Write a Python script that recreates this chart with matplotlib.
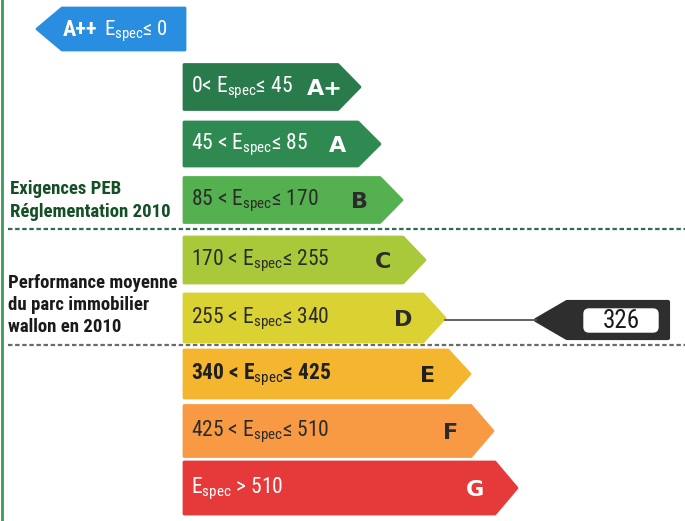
import matplotlib.pyplot as plt
from matplotlib import font_manager
from matplotlib.patches import Polygon, FancyBboxPatch

installed = {f.name for f in font_manager.fontManager.ttflist}
narrow = [n for n in ['Roboto Condensed', 'Liberation Sans Narrow', 'Roboto'] if n in installed]
FONT = narrow + ['DejaVu Sans']
plt.rcParams['mathtext.fontset'] = 'custom'
plt.rcParams['mathtext.rm'] = FONT[0]

# energy classes and their bounds (kWh/m2.an)
classes = ['A+', 'A', 'B', 'C', 'D', 'E', 'F', 'G']
lower = [0, 45, 85, 170, 255, 340, 425, 510]
upper = [45, 85, 170, 255, 340, 425, 510, None]
colors = ['#2a7b4c', '#2f8a52', '#55b04f', '#a9c93a', '#d9d232',
          '#f4b62f', '#f79a43', '#e63a3a']
text_colors = ['white', 'white', '#2b2b2b', '#2b2b2b', '#2b2b2b',
               '#1f1f1f', '#2b2b2b', 'white']
value = 326
value_class = 'D'

fig = plt.figure(figsize=(6.85, 5.21), dpi=100)
ax = fig.add_axes([0, 0, 1, 1])
ax.set_xlim(0, 685)
ax.set_ylim(521, 0)
ax.axis('off')

# left border line
ax.plot([2.5, 2.5], [0, 521], color='#3f9a5a', lw=2)

# A++ arrow pointing left
ax.add_patch(Polygon([(37, 29), (62, 8), (185, 8), (185, 50), (62, 50)],
                     closed=True, fc='#2a8ee0', ec='#2a8ee0', lw=2, joinstyle='round'))
ax.text(63, 30, 'A++', color='white', fontsize=16, fontweight='bold',
        va='center', family=FONT)
ax.text(104, 31, r'E$_{\rm spec}$≤ 0', color='white', fontsize=15,
        va='center', family=FONT)

centers = [87, 144, 200, 260, 318, 374, 431, 488]
heights = [45, 44, 45, 46, 48, 48, 51, 52]
tips = [360, 380, 402, 425, 445, 470, 493, 517]
for i, cls in enumerate(classes):
    yc, h, tip = centers[i], heights[i], tips[i]
    left = 184
    body = tip - 22
    ax.add_patch(Polygon([(left, yc - h / 2), (body, yc - h / 2), (tip, yc),
                          (body, yc + h / 2), (left, yc + h / 2)],
                         closed=True, fc=colors[i], ec=colors[i], lw=2,
                         joinstyle='round'))
    if upper[i] is None:
        label = r'E$_{\rm spec}$ > %d' % lower[i]
    elif lower[i] == 0:
        label = r'%d< E$_{\rm spec}$≤ %d' % (lower[i], upper[i])
    else:
        label = r'%d < E$_{\rm spec}$≤ %d' % (lower[i], upper[i])
    bold = 'bold' if i == 5 else 'normal'
    ax.text(191, yc + 1, label, color=text_colors[i], fontsize=15.5,
            va='center', ha='left', family=FONT, fontweight=bold)
    ax.text(tip - 42 if cls != 'A+' else 325, yc + 2, cls, color=text_colors[i],
            fontsize=16, fontweight='bold', va='center', ha='center',
            family=['DejaVu Sans'])

# separators
ax.plot([8, 685], [229, 229], color='#2f6b4f', lw=1.6, ls=(0, (2, 1.2)))
ax.plot([8, 685], [345, 345], color='#6a6a6a', lw=1.6, ls=(0, (2, 1.2)))

# left annotations
ax.text(10, 189, 'Exigences PEB', color='#144f26', fontsize=13.5,
        fontweight='bold', va='center', family=FONT)
ax.text(10, 212, 'Réglementation 2010', color='#144f26', fontsize=13.5,
        fontweight='bold', va='center', family=FONT)
ax.text(8, 283, 'Performance moyenne', color='#1a1a1a', fontsize=13.5,
        fontweight='bold', va='center', family=FONT)
ax.text(8, 305, 'du parc immobilier', color='#1a1a1a', fontsize=13.5,
        fontweight='bold', va='center', family=FONT)
ax.text(8, 327, 'wallon en 2010', color='#1a1a1a', fontsize=13.5,
        fontweight='bold', va='center', family=FONT)

# value marker
vi = classes.index(value_class)
vy = centers[vi] + 2
ax.plot([tips[vi], 536], [vy, vy], color='#555555', lw=1.3)
ax.add_patch(Polygon([(536, vy), (567, vy - 18), (668, vy - 18),
                      (668, vy + 18), (567, vy + 18)],
                     closed=True, fc='#2e2e2e', ec='#2e2e2e', lw=3,
                     joinstyle='round'))
ax.add_patch(FancyBboxPatch((584, vy - 11), 74, 23,
                            boxstyle='round,pad=0,rounding_size=5',
                            fc='white', ec='white'))
ax.text(621, vy + 1, str(value), color='#1a1a1a', fontsize=18,
        ha='center', va='center', family=FONT)

fig.savefig('out.png', dpi=100)
